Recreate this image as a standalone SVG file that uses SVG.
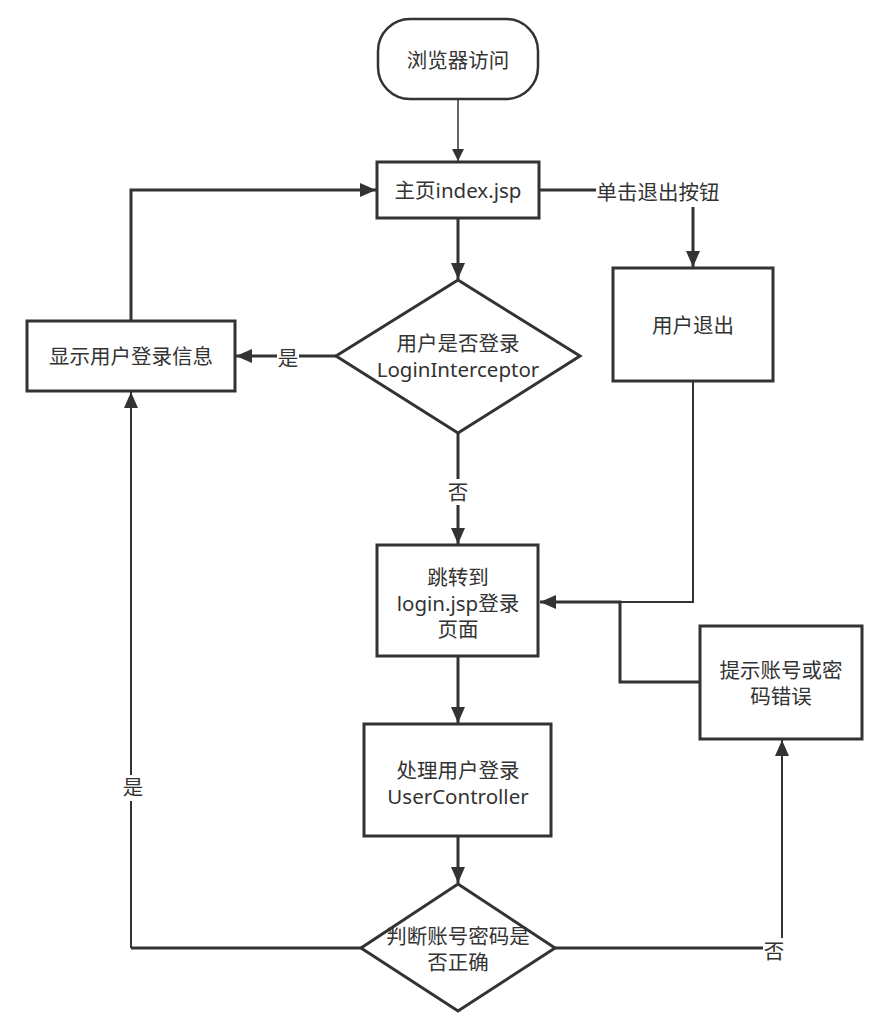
<svg xmlns="http://www.w3.org/2000/svg" width="892" height="1027" viewBox="0 0 892 1027">
<defs>
<style>
.n{fill:#fff;stroke:#333;stroke-width:3}
.t{font-family:"Noto Sans","Noto Sans CJK SC",sans-serif;font-size:20.5px;fill:#333;text-anchor:middle;dominant-baseline:central}
.c{fill:none;stroke:#333;stroke-width:3}
.c2{fill:none;stroke:#333;stroke-width:2}
</style>
<marker id="a" markerUnits="userSpaceOnUse" markerWidth="16" markerHeight="14" refX="16" refY="7" orient="auto"><path d="M0,0 L16,7 L0,14 Z" fill="#333"/></marker>
<marker id="s" markerUnits="userSpaceOnUse" markerWidth="12" markerHeight="12" refX="12" refY="6" orient="auto"><path d="M0,0 L12,6 L0,12 Z" fill="#333"/></marker>
</defs>
<rect width="892" height="1027" fill="#fff"/>
<g id="connectors">
<path class="c2" d="M458,100 L458,161" marker-end="url(#s)" style="stroke-width:1.5"/>
<path class="c" d="M540,190 L596,190"/>
<path class="c" d="M693,207 L693,267" marker-end="url(#a)"/>
<path class="c" d="M458,219 L458,279" marker-end="url(#a)"/>
<path class="c" d="M336,356 L236,356" marker-end="url(#a)"/>
<path class="c" d="M131,321 L131,190 L376,190" marker-end="url(#a)"/>
<path class="c" d="M458,433 L458,544" marker-end="url(#a)"/>
<path class="c2" d="M693,382 L693,602 L620,602"/>
<path class="c" d="M700,682 L620,682 L620,602 L540,602" marker-end="url(#a)"/>
<path class="c" d="M458,657 L458,723" marker-end="url(#a)"/>
<path class="c" d="M458,837 L458,883" marker-end="url(#a)"/>
<path class="c" d="M361,948 L131,948"/>
<path class="c2" d="M131,948 L131,392" marker-end="url(#a)"/>
<path class="c" d="M555,948 L782,948"/>
<path class="c2" d="M782,948 L782,740" marker-end="url(#a)"/>
<rect x="596" y="178" width="126" height="28" fill="#fff"/>
<text class="t" x="658" y="192">单击退出按钮</text>
<rect x="277" y="346" width="22" height="24" fill="#fff"/>
<text class="t" x="288" y="358">是</text>
<rect x="447" y="479" width="22" height="26" fill="#fff"/>
<text class="t" x="458" y="492">否</text>
<rect x="120" y="775" width="22" height="26" fill="#fff"/>
<text class="t" x="133" y="787">是</text>
<rect x="763" y="938" width="22" height="26" fill="#fff"/>
<text class="t" x="774" y="951">否</text>
</g>
<g id="start"><rect class="n" x="378" y="19" width="160" height="80" rx="32" style="stroke-width:2.5"/><text class="t" x="458" y="60">浏览器访问</text></g>
<g id="index"><rect class="n" x="377" y="162" width="162" height="56"/><text class="t" x="458" y="190">主页index.jsp</text></g>
<g id="logout"><rect class="n" x="613" y="268" width="160" height="113"/><text class="t" x="693" y="325">用户退出</text></g>
<g id="check-login"><path class="n" d="M458,280 L580,356 L458,433 L336,356 Z"/><text class="t" x="458" y="343">用户是否登录</text><text class="t" x="458" y="369">LoginInterceptor</text></g>
<g id="show-info"><rect class="n" x="27" y="321" width="208" height="70"/><text class="t" x="131" y="356">显示用户登录信息</text></g>
<g id="login-page"><rect class="n" x="377" y="545" width="161" height="111"/><text class="t" x="458" y="577">跳转到</text><text class="t" x="458" y="603">login.jsp登录</text><text class="t" x="458" y="629">页面</text></g>
<g id="error"><rect class="n" x="700" y="626" width="162" height="113"/><text class="t" x="781" y="670">提示账号或密</text><text class="t" x="781" y="696">码错误</text></g>
<g id="handle"><rect class="n" x="364" y="724" width="187" height="112"/><text class="t" x="458" y="770">处理用户登录</text><text class="t" x="458" y="796">UserController</text></g>
<g id="check-pwd"><path class="n" d="M458,884 L555,948 L458,1011 L361,948 Z"/><text class="t" x="458" y="936">判断账号密码是</text><text class="t" x="458" y="962">否正确</text></g>
</svg>
